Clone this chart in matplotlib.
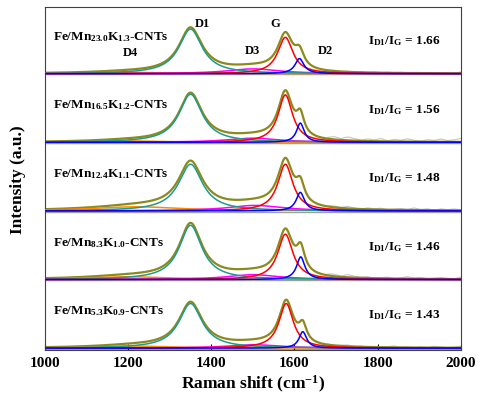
import numpy as np
import matplotlib.pyplot as plt

plt.rcParams['font.family'] = ['Liberation Serif', 'DejaVu Serif']
plt.rcParams['mathtext.fontset'] = 'custom'
plt.rcParams['mathtext.rm'] = 'Liberation Serif:bold'
plt.rcParams['mathtext.it'] = 'Liberation Serif:bold'
plt.rcParams['mathtext.bf'] = 'Liberation Serif:bold'

# samples, top to bottom
samples = [r'Fe/Mn$_{23.0}$K$_{1.3}$-CNTs', r'Fe/Mn$_{16.5}$K$_{1.2}$-CNTs',
           r'Fe/Mn$_{12.4}$K$_{1.1}$-CNTs', r'Fe/Mn$_{8.3}$K$_{1.0}$-CNTs',
           r'Fe/Mn$_{5.3}$K$_{0.9}$-CNTs']
ratios = ['1.66', '1.56', '1.48', '1.46', '1.43']

# fitted bands: centre (cm-1), height (panel units), fwhm (cm-1)
d1_pos = [1350, 1350, 1350, 1350, 1350]
d1_h = [0.65, 0.70, 0.68, 0.79, 0.65]
d1_w = [68, 68, 70, 66, 68]
g_pos = [1578, 1578, 1578, 1578, 1580]
g_h = [0.53, 0.69, 0.68, 0.66, 0.65]
g_w = [44, 42, 44, 44, 42]
d2_pos = [1612, 1614, 1614, 1615, 1620]
d2_h = [0.22, 0.28, 0.27, 0.33, 0.24]
d2_w = [26, 22, 24, 24, 22]
d3_pos = [1500, 1500, 1505, 1500, 1500]
d3_h = [0.07, 0.06, 0.08, 0.07, 0.05]
d3_w = [150, 150, 160, 150, 150]
d4_pos = [1200, 1200, 1220, 1200, 1210]
d4_h = [0.02, 0.02, 0.06, 0.04, 0.03]
d4_w = [220, 200, 260, 240, 220]

# raw spectrum residuals (measured minus fit), every 16 cm-1 from 1680
raw_x = np.arange(1680, 2001, 16)
raw_res = [
    [0.00, 0.01, 0.00, 0.01, 0.00, 0.01, 0.00, 0.01, 0.00, 0.01, 0.00,
     0.01, 0.00, 0.01, 0.01, 0.00, 0.01, 0.00, 0.01, 0.00, 0.02],
    [0.02, 0.04, 0.02, 0.05, 0.03, 0.01, 0.03, 0.02, 0.04, 0.01, 0.03,
     0.02, 0.04, 0.02, 0.01, 0.03, 0.02, 0.04, 0.02, 0.03, 0.05],
    [0.01, 0.02, 0.01, 0.03, 0.01, 0.00, 0.02, 0.01, 0.02, 0.00, 0.01,
     0.02, 0.01, 0.03, 0.01, 0.02, 0.00, 0.02, 0.01, 0.02, 0.01],
    [0.02, 0.03, 0.01, 0.04, 0.02, 0.01, 0.02, 0.00, 0.01, 0.02, 0.00,
     0.01, 0.03, 0.01, 0.02, 0.00, 0.01, 0.02, 0.01, 0.00, 0.03],
    [0.01, 0.00, 0.01, 0.02, 0.00, 0.01, 0.00, 0.01, 0.00, 0.01, 0.02,
     0.00, 0.01, 0.00, 0.01, 0.00, 0.02, 0.01, 0.00, 0.01, 0.02],
]


def lor(x, c, h, w):
    return h / (1 + ((x - c) / (w / 2.0)) ** 2)


x = np.linspace(1000, 2000, 1001)

fig = plt.figure(figsize=(4.79, 4.06), dpi=100)
ax = fig.add_axes([0.094, 0.135, 0.868, 0.845])

for i in range(5):
    off = 4 - i
    bands = [(d4_pos[i], d4_h[i], d4_w[i], '#ff8c00'),
             (d3_pos[i], d3_h[i], d3_w[i], '#ff00ff'),
             (d1_pos[i], d1_h[i], d1_w[i], '#1f9a8e'),
             (g_pos[i], g_h[i], g_w[i], '#ff0000'),
             (d2_pos[i], d2_h[i], d2_w[i], '#0000ff')]
    total = sum(lor(x, c, h, w) for c, h, w, _ in bands)
    raw_fit = sum(lor(raw_x, c, h, w) for c, h, w, _ in bands)
    ax.axhline(off - 0.012, color='#a0a0a0', lw=1.0, zorder=1)
    ax.plot(raw_x, raw_fit + np.array(raw_res[i]) + off, color='#c4c4c4', lw=0.8, zorder=1)
    ax.plot(x, total + off, color='#8c8a1c', lw=1.6, zorder=2)
    for c, h, w, col in bands:
        ax.plot(x, lor(x, c, h, w) + off, color=col, lw=1.1, zorder=3)
    ax.text(1020, off + 0.55, samples[i], fontsize=9.5, fontweight='bold',
            va='center', ha='left')
    ax.text(1778, off + 0.49, r'I$_{D1}$/I$_G$ = ' + ratios[i], fontsize=9.5,
            fontweight='bold', va='center', ha='left')

# band labels on the top panel
for lab, lx, ly in [('D1', 1378, 4.74), ('G', 1554, 4.74), ('D3', 1499, 4.34),
                    ('D2', 1675, 4.34), ('D4', 1205, 4.32)]:
    ax.text(lx, ly, lab, fontsize=9, fontweight='bold', ha='center', va='center')

ax.set_xlim(1000, 2000)
ax.set_ylim(-0.03, 4.97)
ax.set_xticks([1000, 1200, 1400, 1600, 1800, 2000])
ax.set_yticks([])
ax.tick_params(axis='x', direction='in', length=4, labelsize=11, pad=4)
for lab in ax.get_xticklabels():
    lab.set_fontweight('bold')
ax.set_xlabel(r'Raman shift (cm$^{-1}$)', fontsize=12.5, fontweight='bold', labelpad=3)
ax.set_ylabel('Intensity (a.u.)', fontsize=12.5, fontweight='bold', labelpad=14)
for s in ax.spines.values():
    s.set_color('#404040')

plt.savefig('out.png', dpi=100)
